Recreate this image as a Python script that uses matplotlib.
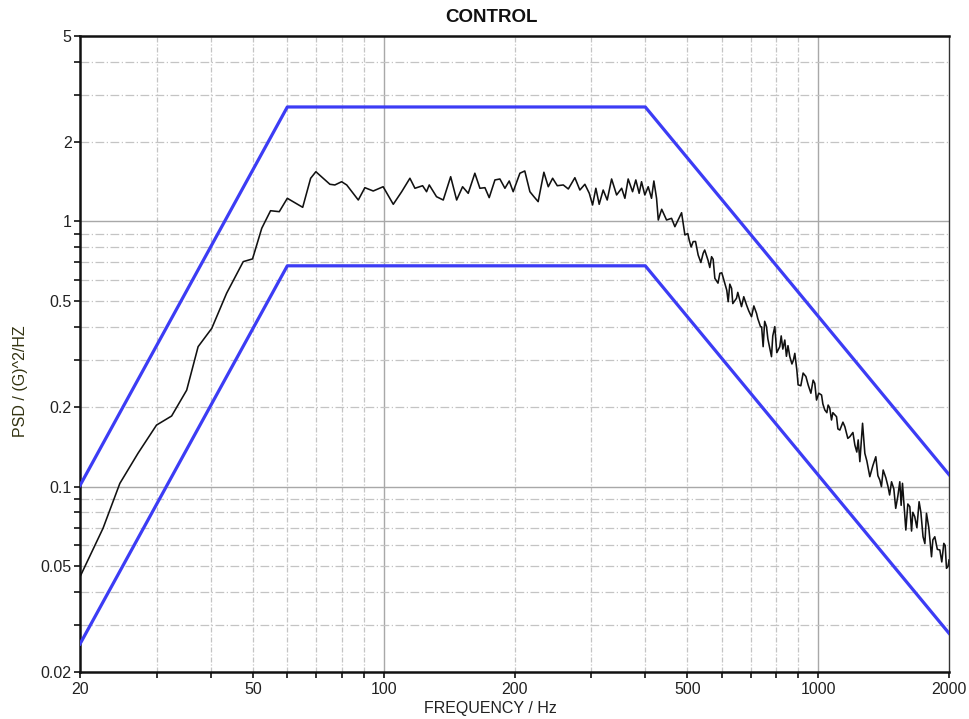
import numpy as np
import matplotlib
matplotlib.use("Agg")
import matplotlib.pyplot as plt
from matplotlib.ticker import FixedLocator, NullFormatter

plt.rcParams['font.family'] = ['Liberation Sans', 'DejaVu Sans']

# tolerance band breakpoints
band_freq = [20, 60, 400, 2000]
band_upper = [0.101, 2.70, 2.70, 0.111]
band_lower = [0.0255, 0.68, 0.68, 0.028]

freq = [20, 22.6, 24.7, 27.2, 30.0, 32.5, 35.2, 37.4, 40.2, 43.5, 47.5, 49.9,
        52.4, 54.9, 57.5, 60, 65.1, 67.9, 69.8, 75.2, 77.2, 80, 82.2, 87.4,
        90.5, 94.6, 99.7, 105.2, 110, 114.9, 118, 122.9, 125.5, 127.3, 132.3,
        137.1, 142.6, 147.2, 151.9, 156.5, 162.1, 166.5, 171, 174.9, 180.3,
        185.1, 190.1, 194.5, 198.6, 205.8, 211.2, 217, 221.7, 226.7, 233.7,
        239.2, 244.8, 250.9, 259, 266, 275.4, 282.8, 290.4, 297.3, 302.5,
        307.8, 313.3, 320, 326.9, 334.6, 343.6, 352.9, 359, 365.3, 373.9,
        380.4, 387.2, 392.1, 399, 406.2, 413.4, 418.6, 424.6, 428.5, 436.3,
        447.7, 459.7, 467.9, 484.8, 493.4, 504.7, 515.5, 529.3, 543.5, 558.1,
        568.3, 578.3, 593.8, 609.8, 620.6, 631.9, 648.6, 666, 684, 702.3,
        721.2, 736.6, 746.9, 760.3, 780.7, 794.5, 815.8, 837.8, 860.3, 883.4,
        899, 923.2, 948, 973.5, 991.2, 1017.9, 1035.8, 1054, 1073, 1102,
        1121.6, 1151.7, 1182.6, 1214.4, 1247, 1265, 1280.4, 1314.6, 1357,
        1386, 1411, 1448, 1475, 1508, 1541, 1563, 1591, 1625, 1668, 1707,
        1743, 1775, 1823, 1855, 1905, 1945.7, 1973.5, 2000]
psd = [0.0457, 0.0697, 0.1028, 0.1336, 0.1706, 0.1846, 0.231, 0.337, 0.395,
       0.536, 0.705, 0.722, 0.942, 1.097, 1.088, 1.222, 1.13, 1.454, 1.539,
       1.38, 1.372, 1.411, 1.372, 1.204, 1.34, 1.302, 1.351, 1.16, 1.294,
       1.454, 1.333, 1.363, 1.294, 1.372, 1.239, 1.204, 1.474, 1.204, 1.351,
       1.276, 1.519, 1.333, 1.34, 1.229, 1.433, 1.445, 1.333, 1.42, 1.294,
       1.519, 1.549, 1.294, 1.239, 1.187, 1.532, 1.351, 1.454, 1.363, 1.372,
       1.325, 1.461, 1.313, 1.38, 1.276, 1.153, 1.333, 1.16, 1.313, 1.204,
       1.445, 1.258, 1.333, 1.222, 1.445, 1.294, 1.433, 1.276, 1.411, 1.258,
       1.351, 1.222, 1.42, 1.222, 1.012, 1.111, 1.012, 1.027, 0.955, 1.078,
       0.889, 0.851, 0.839, 0.747, 0.758, 0.711, 0.736, 0.61, 0.637, 0.584,
       0.498, 0.559, 0.513, 0.477, 0.484, 0.437, 0.45, 0.401, 0.337, 0.401,
       0.309, 0.401, 0.337, 0.357, 0.309, 0.318, 0.242, 0.268, 0.242, 0.252,
       0.212, 0.2215, 0.1944, 0.203, 0.1783, 0.1835, 0.1634, 0.1682, 0.1543,
       0.1435, 0.1242, 0.1733, 0.1335, 0.109, 0.1296, 0.1059, 0.1155, 0.0999,
       0.1043, 0.0828, 0.1043, 0.1029, 0.0686, 0.084, 0.077, 0.0877, 0.0647,
       0.0793, 0.0544, 0.0647, 0.0577, 0.0611, 0.0492, 0.0529]

# extra peaks/troughs read from the dense high-frequency part
freq_hf = [501, 510, 522, 537, 548, 563, 573, 588, 600, 616, 626, 636, 653,
           674, 692, 711, 726, 741, 753, 766, 786, 803, 822, 829, 845, 852,
           870, 877, 893, 912, 937, 962, 982, 1003, 1025, 1047, 1063, 1081,
           1110, 1140, 1170, 1202, 1227, 1236, 1294, 1336, 1372, 1398, 1431,
           1460, 1493, 1525, 1552, 1608, 1640, 1651, 1687, 1723, 1760, 1797,
           1836, 1880, 1925, 1960, 1990]
psd_hf = [0.90, 0.80, 0.84, 0.70, 0.78, 0.67, 0.72, 0.585, 0.64, 0.55, 0.58,
          0.49, 0.54, 0.52, 0.46, 0.48, 0.43, 0.40, 0.42, 0.36, 0.37, 0.32,
          0.37, 0.33, 0.31, 0.34, 0.29, 0.30, 0.275, 0.24, 0.26, 0.225, 0.245,
          0.225, 0.205, 0.19, 0.198, 0.19, 0.165, 0.175, 0.152, 0.16, 0.135,
          0.15, 0.125, 0.12, 0.11, 0.10, 0.108, 0.093, 0.098, 0.092, 0.085,
          0.086, 0.068, 0.08, 0.07, 0.08, 0.061, 0.07, 0.063, 0.058, 0.052,
          0.06, 0.05]

x_major = [20, 50, 100, 200, 500, 1000, 2000]
x_labels = ['20', '50', '100', '200', '500', '1000', '2000']
y_major = [0.02, 0.05, 0.1, 0.2, 0.5, 1, 2, 5]
y_labels = ['0.02', '0.05', '0.1', '0.2', '0.5', '1', '2', '5']

f_all = np.array(freq + freq_hf)
p_all = np.array(psd + psd_hf)
order = np.argsort(f_all)

fig = plt.figure(figsize=(9.7, 7.19), dpi=100)
ax = fig.add_axes([80 / 970, 1 - 672 / 719, 869 / 970, 636 / 719])
ax.set_xscale('log')
ax.set_yscale('log')
ax.set_xlim(20, 2000)
ax.set_ylim(0.02, 5)

# grid: decades solid, the rest dash-dot
x_all = [d * m for d in (10, 100, 1000) for m in range(1, 10) if 20 < d * m < 2000]
y_all = [d * m for d in (0.01, 0.1, 1) for m in range(1, 10) if 0.02 < d * m < 5]
for xv in x_all:
    if xv in (100, 1000):
        ax.axvline(xv, color='#a8a8a8', lw=1.0, zorder=0)
    else:
        ax.axvline(xv, color='#c4c4c4', lw=0.9, dashes=(4, 1.5, 1, 1.5), zorder=0)
for yv in y_all:
    if abs(yv - 0.1) < 1e-9 or abs(yv - 1) < 1e-9:
        ax.axhline(yv, color='#a8a8a8', lw=1.0, zorder=0)
    else:
        ax.axhline(yv, color='#c4c4c4', lw=0.9, dashes=(7, 2, 1, 2), zorder=0)

ax.plot(band_freq, band_upper, color='#3c3cf5', lw=2.3, zorder=3)
ax.plot(band_freq, band_lower, color='#3c3cf5', lw=2.3, zorder=3)
ax.plot(f_all[order], p_all[order], color='#111111', lw=1.15, zorder=2)

ax.xaxis.set_major_locator(FixedLocator(x_major))
ax.set_xticklabels(x_labels)
ax.xaxis.set_minor_locator(FixedLocator([v for v in x_all if v not in x_major]))
ax.xaxis.set_minor_formatter(NullFormatter())
ax.yaxis.set_major_locator(FixedLocator(y_major))
ax.set_yticklabels(y_labels)
ax.yaxis.set_minor_locator(FixedLocator([v for v in y_all if v not in y_major]))
ax.yaxis.set_minor_formatter(NullFormatter())
ax.tick_params(which='both', direction='out', length=4, width=1.2, color='#111111',
               labelcolor='#222222', labelsize=11.5)
ax.tick_params(axis='x', pad=3)
ax.tick_params(axis='y', pad=2)

for s in ('left', 'bottom', 'top'):
    ax.spines[s].set_linewidth(1.8)
    ax.spines[s].set_color('#111111')
ax.spines['right'].set_linewidth(1.0)
ax.spines['right'].set_color('#333333')

fig.text(492 / 970, 1 - 18 / 719, 'CONTROL', ha='center', va='center',
         fontsize=13.5, fontweight='bold', color='#111111')
fig.text(490 / 970, 1 - 709 / 719, 'FREQUENCY / Hz', ha='center', va='center',
         fontsize=11.5, color='#222222')
fig.text(21 / 970, 1 - 381 / 719, 'PSD / (G)^2/HZ', ha='center', va='center',
         rotation=90, fontsize=11.5, color='#333311')

fig.savefig('out.png', dpi=100)
